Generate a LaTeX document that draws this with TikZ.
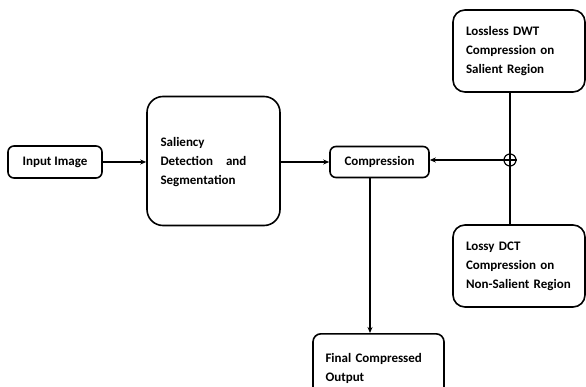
\documentclass[tikz,border=0pt]{standalone}
\usepackage{fontspec}
\setmainfont{Carlito}
\usetikzlibrary{arrows.meta}

\begin{document}
\begin{tikzpicture}[x=1pt,y=-1pt,line width=1.6pt,font=\bfseries\fontsize{13}{19}\selectfont]
\tikzstyle{blocki}=[rectangle,draw,rounded corners=6pt,align=center]
\tikzstyle{blockt}=[rectangle,draw,rounded corners=12pt,align=left,inner xsep=13pt]
\tikzstyle{flow}=[-{Stealth[length=6pt,width=5pt]}]
\useasboundingbox (0,0) rectangle (586,387);
\node (in) [blocki,minimum width=94pt,minimum height=32pt] at (55,162) {Input Image};
\node (sal) [blockt,rounded corners=16pt,minimum width=133pt,minimum height=129pt,text width=106pt] at (213.5,161) {\\[-8pt]Saliency\\Detection~~ and\\Segmentation};
\node (comp) [blocki,minimum width=99pt,minimum height=31pt] at (379.5,162) {Compression};
\node (dwt) [blockt,minimum width=132pt,minimum height=82pt,text width=106pt] at (519,51) {Lossless DWT\\Compression on\\Salient Region\\[6pt]};
\node (dct) [blockt,minimum width=132pt,minimum height=82pt,text width=106pt] at (519,266) {Lossy DCT\\Compression on\\Non-Salient Region\\[4pt]};
\node (out) [blockt,rounded corners=8pt,minimum width=131pt,minimum height=70pt,text width=106pt,inner xsep=12pt,anchor=north] at (378.5,333) {Final Compressed\\Output\\[22pt]};
\node (sum) [circle,draw,line width=1.2pt,minimum size=12pt,inner sep=0pt] at (510,160) {};
\draw [line width=1.2pt] (sum.west) -- (sum.east) (sum.north) -- (sum.south);
\draw [flow] (in.east) -- (in.east -| sal.west);
\draw [flow] (sal.east |- comp.west) -- (comp.west);
\draw (sum |- dwt.south) -- (sum.north);
\draw (sum.south) -- (sum |- dct.north);
\draw [flow] (sum.west) -- (sum.west -| comp.east);
\draw [flow] ([xshift=-9.5pt]comp.south) -- ([xshift=-9.5pt]comp.south |- out.north);
\end{tikzpicture}
\end{document}
